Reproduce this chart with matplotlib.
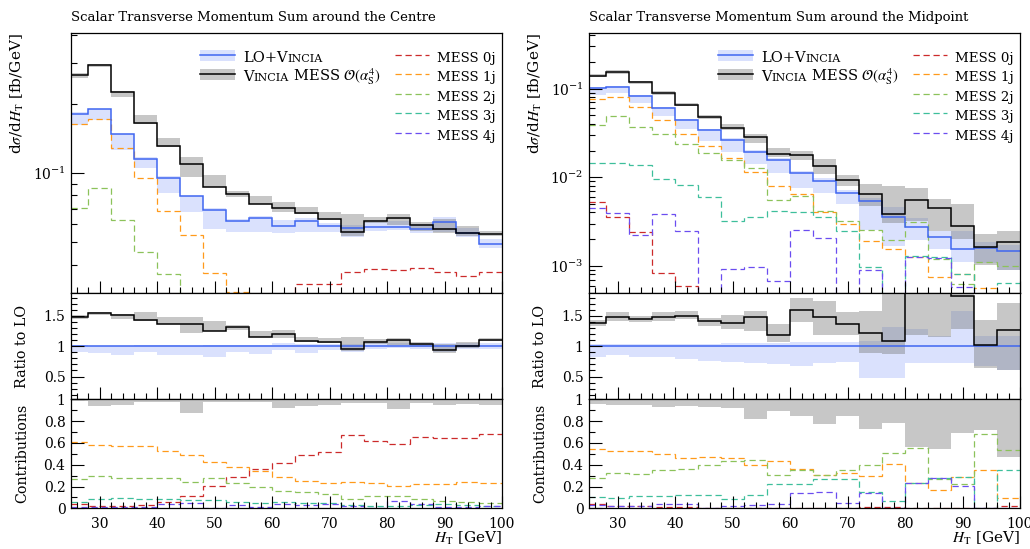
import numpy as np
import matplotlib
matplotlib.use("Agg")
import matplotlib.pyplot as plt
from matplotlib.ticker import MultipleLocator, LogLocator, NullFormatter, FormatStrFormatter, FixedLocator

plt.rcParams["font.family"] = ["DejaVu Serif"]
plt.rcParams["mathtext.fontset"] = "stix"

# ---------------- data ----------------
edges = [25, 28, 32, 36, 40, 44, 48, 52, 56, 60, 64, 68, 72, 76, 80, 84, 88, 92, 96, 100]

# Centre
centre_lo_vincia = [0.180, 0.1905, 0.148, 0.115, 0.0955, 0.0794, 0.0693, 0.0618, 0.0637, 0.0591,
                    0.0621, 0.0591, 0.0579, 0.0582, 0.0582, 0.0571, 0.0615, 0.055, 0.0493]
centre_vincia_mess = [0.266, 0.296, 0.224, 0.165, 0.131, 0.109, 0.087, 0.0814, 0.0736, 0.0707,
                      0.0673, 0.0634, 0.0555, 0.0618, 0.064, 0.0593, 0.0573, 0.055, 0.0545]
centre_lo_band_lo = [0.90, 0.89, 0.85, 0.91, 0.86, 0.85, 0.82, 0.90, 0.87, 0.93,
                     0.89, 0.94, 0.91, 0.96, 0.97, 0.96, 0.90, 0.96, 0.96]
centre_lo_band_hi = [1.02, 1.00, 1.00, 1.02, 1.02, 1.00, 1.02, 1.02, 1.02, 1.06,
                     1.03, 1.03, 1.03, 1.05, 1.06, 1.05, 1.05, 1.05, 1.05]
centre_mess_band_lo = [1.44, 1.52, 1.44, 1.42, 1.36, 1.21, 1.25, 1.27, 1.15, 1.14,
                       1.07, 1.06, 0.92, 1.04, 1.02, 0.98, 0.89, 0.97, 1.08]
centre_mess_band_hi = [1.51, 1.57, 1.53, 1.56, 1.48, 1.48, 1.42, 1.35, 1.25, 1.26,
                       1.15, 1.14, 1.15, 1.11, 1.14, 1.07, 1.03, 1.07, 1.14]
centre_mess_0j = [0.0098, 0.0074, 0.0056, 0.0050, 0.0076, 0.0124, 0.0179, 0.0235, 0.0265, 0.0291,
                  0.033, 0.033, 0.0371, 0.0384, 0.0378, 0.0387, 0.0371, 0.0355, 0.0371]
centre_mess_1j = [0.163, 0.172, 0.129, 0.0949, 0.0685, 0.0536, 0.0367, 0.0305, 0.0254, 0.0206,
                  0.0168, 0.0148, 0.0132, 0.0146, 0.0132, 0.0132, 0.0127, 0.0135, 0.0126]
centre_mess_2j = [0.0707, 0.0864, 0.0625, 0.0452, 0.0365, 0.0268, 0.0238, 0.0188, 0.0141, 0.0109,
                  0.0098, 0.0086, 0.0046, 0.0070, 0.0073, 0.0049, 0.0039, 0.0034, 0.0025]
centre_mess_3j = [0.016, 0.0266, 0.0202, 0.0140, 0.0111, 0.0082, 0.0068, 0.0049, 0.0038, 0.0041,
                  0.0035, 0.0033, 0.0016, 0.0014, 0.0014, 0.0017, 0.0020, 0.0019, 0.0012]
centre_mess_4j = [0.0040, 0.0036, 0.0027, 0.0020, 0.0048, 0.0050, 0.0005, 0.0028, 0.0009, 0.0026,
                  0.0020, 0.0027, 0.0011, 0.0004, 0.0040, 0.0022, 0.0007, 0.0008, 0.0011]
centre_contrib_band_lo = [0.98, 0.94, 0.95, 0.975, 0.975, 0.87, 0.975, 0.975, 0.975, 0.92,
                          0.94, 0.95, 0.97, 0.97, 0.91, 0.97, 0.945, 0.96, 0.95]

# Midpoint
mid_lo_vincia = [0.1016, 0.1035, 0.0819, 0.0596, 0.0437, 0.034, 0.0262, 0.0194, 0.0156, 0.0111,
                 0.0091, 0.00671, 0.00532, 0.00352, 0.00272, 0.00213, 0.00155, 0.00159, 0.00146]
mid_vincia_mess = [0.140, 0.153, 0.118, 0.0885, 0.0656, 0.048, 0.0361, 0.0286, 0.0184, 0.0177,
                   0.0135, 0.0092, 0.00644, 0.00384, 0.00556, 0.00444, 0.00284, 0.00162, 0.00184]
mid_lo_band_lo = [0.83, 0.86, 0.83, 0.82, 0.79, 0.76, 0.74, 0.72, 0.71, 0.68,
                  0.72, 0.74, 0.48, 0.48, 0.72, 0.72, 0.72, 0.68, 0.61]
mid_lo_band_hi = [1.03, 1.03, 1.03, 1.03, 1.04, 1.04, 1.05, 1.05, 1.06, 1.07,
                  1.07, 1.07, 1.09, 1.32, 1.28, 1.17, 1.58, 1.17, 1.17]
mid_mess_band_lo = [1.33, 1.42, 1.39, 1.42, 1.44, 1.33, 1.29, 1.25, 1.07, 1.39,
                    1.19, 1.19, 0.89, 0.87, 1.19, 1.15, 1.28, 0.64, 0.61]
mid_mess_band_hi = [1.43, 1.56, 1.50, 1.56, 1.58, 1.47, 1.52, 1.58, 1.37, 1.79,
                    1.74, 1.56, 1.58, 2.27, 2.80, 2.66, 3.20, 1.43, 1.71]
mid_mess_0j = [5.2e-3, 3.6e-3, 2.4e-3, 8.3e-4, 5.9e-4, 2.4e-4, 1.1e-4, 9e-5, 6e-5, 5e-5,
               4e-5, 3e-5, 6.5e-5, 5.8e-5, 1e-5, 1e-5, 1e-5, 1e-5, 4e-5]
mid_mess_1j = [0.0764, 0.0805, 0.0616, 0.0437, 0.0304, 0.0225, 0.0165, 0.0113, 0.00798, 0.00644,
               0.00407, 0.00296, 0.00192, 0.00155, 0.00127, 0.000745, 0.000813, 0.000566, 0.00018]
mid_mess_2j = [0.0383, 0.0489, 0.0371, 0.0309, 0.0239, 0.0189, 0.0155, 0.0128, 0.00556, 0.00617,
               0.00411, 0.00323, 0.00254, 0.00196, 0.00309, 0.0012, 0.000625, 0.0011, 0.00099]
mid_mess_3j = [0.0146, 0.0146, 0.0136, 0.00964, 0.00813, 0.00605, 0.00317, 0.00351, 0.00418, 0.0040,
               0.0036, 0.00246, 0.00096, 0.00026, 0.0013, 0.00125, 0.00081, 1e-5, 0.000644]
mid_mess_4j = [4.55e-3, 3.9e-3, 2.25e-3, 3.84e-3, 2.45e-3, 3e-4, 9.25e-4, 9.8e-4, 6.7e-4, 2.56e-3,
               2.06e-3, 4.2e-4, 9e-4, 1e-5, 1.27e-3, 1.23e-3, 5.8e-4, 1e-5, 1e-5]
mid_contrib_band_lo = [0.954, 0.945, 0.945, 0.93, 0.935, 0.93, 0.923, 0.82, 0.89, 0.85,
                       0.775, 0.843, 0.73, 0.785, 0.56, 0.54, 0.69, 0.717, 0.474]

titles = ["Scalar Transverse Momentum Sum around the Centre",
          "Scalar Transverse Momentum Sum around the Midpoint"]
mess_labels = ["MESS 0j", "MESS 1j", "MESS 2j", "MESS 3j", "MESS 4j"]
xtick_labels = [30, 40, 50, 60, 70, 80, 90, 100]

# ---------------- style ----------------
C_BLUE = "#3f66f0"
C_BLUE_BAND = (0.29, 0.42, 0.97, 0.20)
C_GRAY_BAND = (0.45, 0.45, 0.45, 0.40)
MESS_COLORS = ["#cc2a2a", "#ff9a1a", "#8cc25a", "#3dbf9b", "#6b4df0"]
DASH = (0, (5, 3))

W, H = 1030, 549
fig = plt.figure(figsize=(W / 100, H / 100), dpi=100)
renderer = fig.canvas.get_renderer()


def fx(px):
    return px / W


def fy(py):
    return 1 - py / H


def style_axis(ax, xlabels=False):
    ax.set_xlim(25, 100)
    ax.xaxis.set_major_locator(FixedLocator(xtick_labels))
    ax.xaxis.set_minor_locator(MultipleLocator(2))
    ax.tick_params(which="both", direction="in", top=False, right=False, width=0.8,
                   labelsize=10, pad=4)
    ax.tick_params(which="major", length=9)
    ax.tick_params(which="minor", length=4.5)
    if not xlabels:
        ax.tick_params(axis="x", labelbottom=False)
    else:
        ax.tick_params(axis="x", pad=6)
    for s in ax.spines.values():
        s.set_linewidth(0.9)


def smallcaps(ax, x, y, parts, fs):
    """parts: list of (text, scale)"""
    for txt, sc in parts:
        t = ax.text(x, y, txt, transform=ax.transAxes, fontsize=fs * sc, va="baseline", ha="left")
        bb = t.get_window_extent(renderer)
        x = ax.transAxes.inverted().transform((bb.x1, bb.y0))[0]


def panel(x0px, title, blue, black, blo, bhi, klo, khi, mess, cband, ylim):
    blue = np.array(blue)
    black = np.array(black)
    blo, bhi, klo, khi = map(np.array, (blo, bhi, klo, khi))
    mess = [np.array(m) for m in mess]
    wfrac = fx(431)
    axm = fig.add_axes([fx(x0px), fy(293.3), wfrac, fy(33.3) - fy(293.3)])
    axr = fig.add_axes([fx(x0px), fy(399.3), wfrac, fy(293.3) - fy(399.3)])
    axc = fig.add_axes([fx(x0px), fy(508.3), wfrac, fy(399.3) - fy(508.3)])

    # main
    axm.set_yscale("log")
    axm.stairs(blue * bhi, edges, baseline=blue * blo, fill=True, color=C_BLUE_BAND, lw=0)
    axm.stairs(blue * khi, edges, baseline=blue * klo, fill=True, color=C_GRAY_BAND, lw=0)
    for m, c in zip(mess, MESS_COLORS):
        axm.stairs(m, edges, baseline=None, color=c, lw=0.9, ls=DASH)
    axm.stairs(blue, edges, baseline=None, color=C_BLUE, lw=1.1)
    axm.stairs(black, edges, baseline=None, color="black", lw=1.1)
    axm.set_ylim(*ylim)
    axm.yaxis.set_major_locator(LogLocator(base=10, subs=(1.0,)))
    axm.yaxis.set_minor_locator(LogLocator(base=10, subs=np.arange(2, 10)))
    axm.yaxis.set_minor_formatter(NullFormatter())
    style_axis(axm)
    axm.text(0, 1.046, title, transform=axm.transAxes, fontsize=9.5, va="baseline", ha="left")
    axm.text(-0.125, 1.0, r"d$\sigma$/d$H_\mathrm{T}$ [fb/GeV]", transform=axm.transAxes,
             rotation=90, ha="center", va="top", fontsize=11)

    # legend
    rows = [0.915, 0.842, 0.765, 0.692, 0.615]
    base = 0.024
    bh = 0.021
    axm.fill_between([0.30, 0.381], rows[0] - bh, rows[0] + bh, transform=axm.transAxes,
                     color=C_BLUE_BAND, lw=0)
    axm.plot([0.30, 0.381], [rows[0]] * 2, transform=axm.transAxes, color=C_BLUE, lw=1.1)
    smallcaps(axm, 0.399, rows[0] - base, [("LO+V", 1.0), ("INCIA", 0.76)], 10.5)
    axm.fill_between([0.30, 0.381], rows[1] - bh, rows[1] + bh, transform=axm.transAxes,
                     color=C_GRAY_BAND, lw=0)
    axm.plot([0.30, 0.381], [rows[1]] * 2, transform=axm.transAxes, color="black", lw=1.1)
    smallcaps(axm, 0.399, rows[1] - base,
              [("V", 1.0), ("INCIA", 0.76), (r" MESS $\mathcal{O}(\alpha_\mathrm{S}^4)$", 1.0)], 10.5)
    for r, c, lab in zip(rows, MESS_COLORS, mess_labels):
        axm.plot([0.752, 0.83], [r, r], transform=axm.transAxes, color=c, lw=0.9, ls=DASH)
        axm.text(0.85, r - base, lab, transform=axm.transAxes, fontsize=9.6, va="baseline")

    # ratio
    axr.stairs(bhi, edges, baseline=blo, fill=True, color=C_BLUE_BAND, lw=0)
    axr.stairs(khi, edges, baseline=klo, fill=True, color=C_GRAY_BAND, lw=0)
    axr.stairs(blue / blue, edges, baseline=None, color=C_BLUE, lw=1.1)
    axr.stairs(black / blue, edges, baseline=None, color="black", lw=1.1)
    axr.set_ylim(0.126, 1.87)
    axr.yaxis.set_major_locator(FixedLocator([0.5, 1.0, 1.5]))
    axr.yaxis.set_major_formatter(FormatStrFormatter("%g"))
    axr.yaxis.set_minor_locator(MultipleLocator(0.1))
    style_axis(axr)
    axr.text(-0.114, 0.5, "Ratio to LO", transform=axr.transAxes, rotation=90,
             ha="center", va="center", fontsize=10.3)

    # contributions
    axc.stairs(np.ones(len(cband)), edges, baseline=np.array(cband), fill=True,
               color=C_GRAY_BAND, lw=0)
    for m, c in zip(mess, MESS_COLORS):
        axc.stairs(m / black, edges, baseline=None, color=c, lw=0.9, ls=DASH)
    axc.set_ylim(0, 1.0)
    axc.yaxis.set_major_locator(FixedLocator([0, 0.2, 0.4, 0.6, 0.8, 1.0]))
    axc.yaxis.set_major_formatter(FormatStrFormatter("%g"))
    axc.yaxis.set_minor_locator(MultipleLocator(0.1))
    style_axis(axc, xlabels=True)
    axc.text(-0.114, 0.5, "Contributions", transform=axc.transAxes, rotation=90,
             ha="center", va="center", fontsize=10.3)
    axc.text(1.0, -0.28, r"$H_\mathrm{T}$ [GeV]", transform=axc.transAxes,
             ha="right", va="center", fontsize=11)


panel(71, titles[0], centre_lo_vincia, centre_vincia_mess, centre_lo_band_lo, centre_lo_band_hi,
      centre_mess_band_lo, centre_mess_band_hi,
      [centre_mess_0j, centre_mess_1j, centre_mess_2j, centre_mess_3j, centre_mess_4j],
      centre_contrib_band_lo, (0.03, 0.405))
panel(589, titles[1], mid_lo_vincia, mid_vincia_mess, mid_lo_band_lo, mid_lo_band_hi,
      mid_mess_band_lo, mid_mess_band_hi,
      [mid_mess_0j, mid_mess_1j, mid_mess_2j, mid_mess_3j, mid_mess_4j],
      mid_contrib_band_lo, (4.9e-4, 0.42))

fig.savefig("out.png", dpi=100)
